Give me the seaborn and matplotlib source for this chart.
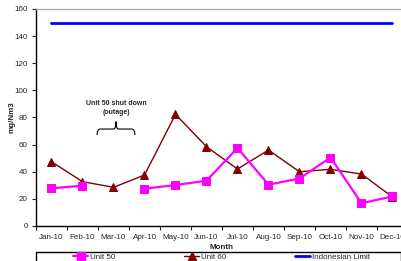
import numpy as np
import pandas as pd
import seaborn as sns
import matplotlib.pyplot as plt
from matplotlib.lines import Line2D
from matplotlib.path import Path
import matplotlib.patches as mpatches

months = ['Jan-10', 'Feb-10', 'Mar-10', 'Apr-10', 'May-10', 'Jun-10',
          'Jul-10', 'Aug-10', 'Sep-10', 'Oct-10', 'Nov-10', 'Dec-10']
unit50 = [27.8, 29.7, np.nan, 27.5, 30.2, 33.4, 57.5, 30.5, 35.0, 50.5, 16.8, 21.8]
unit60 = [47.4, 32.7, 28.5, 37.6, 82.3, 58.5, 42.0, 56.0, 40.0, 41.8, 38.3, 21.4]
limit = [150] * 12

sns.set_style('white')
plt.rcParams['font.family'] = ['Liberation Sans', 'DejaVu Sans']

x = np.arange(len(months))
df50 = pd.DataFrame({'x': x, 'val': unit50})
df50['seg'] = np.isnan(df50['val']).cumsum()  # break the line at the outage
df50 = df50.dropna()
df60 = pd.DataFrame({'x': x, 'val': unit60})
dflim = pd.DataFrame({'x': x, 'val': limit})

fig = plt.figure(figsize=(4.02, 2.61), dpi=100)
ax = fig.add_axes([36 / 402, 35 / 261, 372 / 402, 217 / 261])

sns.lineplot(data=dflim, x='x', y='val', ax=ax, color='#0000FF', linewidth=2, legend=False)
sns.lineplot(data=df60, x='x', y='val', ax=ax, color='#800000', linewidth=1,
             marker='^', markersize=6, markeredgecolor='#800000', legend=False)
sns.lineplot(data=df50, x='x', y='val', units='seg', estimator=None, ax=ax,
             color='#FF00FF', linewidth=1.6, marker='s', markersize=6,
             markeredgecolor='#FF00FF', legend=False)

ax.set_xlim(-0.5, 11.5)
ax.set_ylim(0, 160)
ax.set_yticks(np.arange(0, 161, 20))
ax.set_xticks(x)
ax.set_xticklabels(months)
ax.set_xticks(np.arange(-0.5, 12, 1), minor=True)
ax.tick_params(axis='x', which='major', length=0, labelsize=5.8, pad=6)
ax.tick_params(axis='x', which='minor', length=3, width=0.8, direction='out', bottom=True)
ax.tick_params(axis='y', length=3, width=0.8, direction='out', left=True, labelsize=5.8, pad=3)
ax.set_xlabel('Month', fontsize=5.8, fontweight='bold', labelpad=2)
ax.set_ylabel('mg/Nm3', fontsize=5.8, fontweight='bold')
ax.yaxis.set_label_coords(-20 / 372, 0.5)

for s in ['left', 'bottom']:
    ax.spines[s].set_color('black')
    ax.spines[s].set_linewidth(1)
for s in ['top', 'right']:
    ax.spines[s].set_color('#b0b0b0')
    ax.spines[s].set_linewidth(1)

# outage note with brace
ax.text(2.08, 87, 'Unit 50 shut down\n(outage)', ha='center', va='center',
        fontsize=5, fontweight='bold', linespacing=1.5)
x0, x1, xm = 1.47, 2.69, 2.08
yb, yh, ya = 67, 71.5, 77
verts = [(x0, yb), (x0, yh), (x0 + 0.1, yh), (xm - 0.08, yh),
         (xm, yh), (xm, ya), (xm, ya), (xm, yh), (xm + 0.08, yh),
         (x1 - 0.1, yh), (x1, yh), (x1, yb)]
codes = [Path.MOVETO, Path.CURVE3, Path.CURVE3, Path.LINETO,
         Path.CURVE3, Path.CURVE3, Path.MOVETO, Path.CURVE3, Path.CURVE3,
         Path.LINETO, Path.CURVE3, Path.CURVE3]
ax.add_patch(mpatches.PathPatch(Path(verts, codes), fill=False, lw=0.8, color='black'))

# legend box, cut off by the bottom edge like the original
fig.add_artist(mpatches.Rectangle((36 / 402, -0.05), 365 / 402, 0.05 + 9 / 261,
                                  transform=fig.transFigure, fill=False,
                                  edgecolor='black', lw=1))
handles = [
    Line2D([], [], color='#FF00FF', lw=1.6, marker='s', markersize=6, label='Unit 50'),
    Line2D([], [], color='#800000', lw=1, marker='^', markersize=6, label='Unit 60'),
    Line2D([], [], color='#0000FF', lw=2, label='Indonesian Limit'),
]
fig.legend(handles=handles, loc='upper left', ncol=3,
           bbox_to_anchor=(73 / 402, 1 - 253 / 261),
           frameon=False, fontsize=5.8, borderpad=0, borderaxespad=0,
           handlelength=1.9, handletextpad=0.15, columnspacing=8.6)

fig.savefig('out.png', dpi=100)
